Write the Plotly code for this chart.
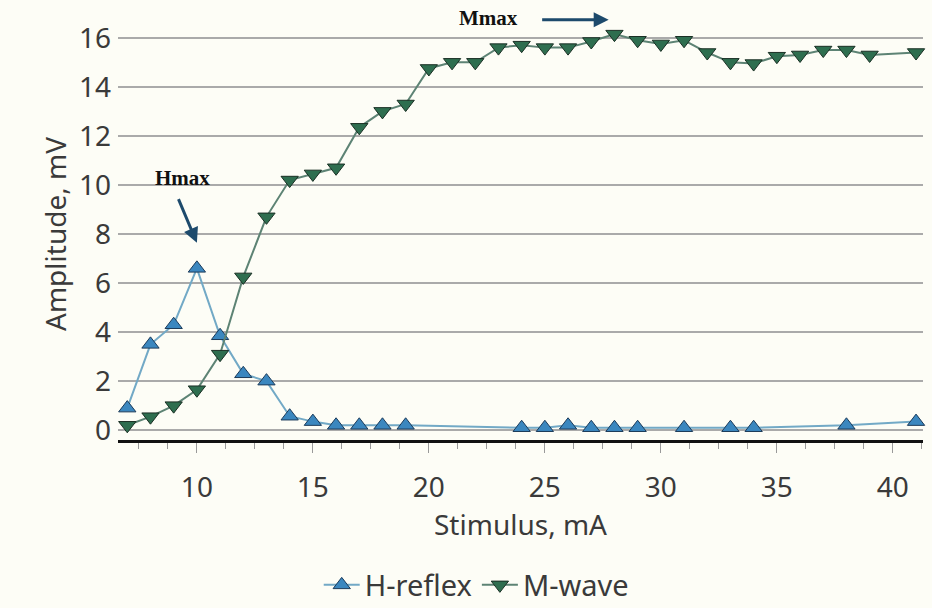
import plotly.graph_objects as go

# Stimulus intensities (mA) and response amplitudes (mV)
h_stim = [7, 8, 9, 10, 11, 12, 13, 14, 15, 16, 17, 18, 19,
          24, 25, 26, 27, 28, 29, 31, 33, 34, 38, 41]
h_amp = [0.9, 3.5, 4.3, 6.6, 3.85, 2.3, 2.0, 0.57, 0.35, 0.2, 0.2, 0.2, 0.2,
         0.1, 0.1, 0.2, 0.1, 0.1, 0.1, 0.1, 0.1, 0.1, 0.2, 0.35]

m_stim = [7, 8, 9, 10, 11, 12, 13, 14, 15, 16, 17, 18, 19, 20, 21, 22, 23, 24,
          25, 26, 27, 28, 29, 30, 31, 32, 33, 34, 35, 36, 37, 38, 39, 41]
m_amp = [0.2, 0.55, 1.0, 1.65, 3.1, 6.25, 8.7, 10.2, 10.45, 10.7, 12.35, 13.0,
         13.3, 14.75, 15.0, 15.0, 15.6, 15.7, 15.6, 15.6, 15.85, 16.15, 15.9,
         15.75, 15.9, 15.4, 15.0, 14.95, 15.25, 15.3, 15.5, 15.5, 15.3, 15.4]

y_ticks = [0, 2, 4, 6, 8, 10, 12, 14, 16]
x_ticks = [10, 15, 20, 25, 30, 35, 40]

TEXT = "#3a3a3a"
FONT = "Noto Sans"
FS = 28
BG = "#fdfdf6"
ARROW = "#1d4a6c"

fig = go.Figure()

fig.add_trace(go.Scatter(
    x=h_stim, y=h_amp, name="H-reflex", mode="lines+markers",
    line=dict(color="#72a9c6", width=2),
    marker=dict(symbol="triangle-up", size=15, color="#3b87bf",
                line=dict(color="#1c3b5a", width=1)),
    cliponaxis=False,
))
fig.add_trace(go.Scatter(
    x=m_stim, y=m_amp, name="M-wave", mode="lines+markers",
    line=dict(color="#5d8374", width=2),
    marker=dict(symbol="triangle-down", size=15, color="#2e6e4f",
                line=dict(color="#1a2f24", width=1)),
    cliponaxis=False,
))

# Peak labels with arrows
fig.add_annotation(x=10, y=7.64, ax=9.18, ay=9.48, xref="x", yref="y",
                   axref="x", ayref="y", text="", showarrow=True,
                   arrowhead=2, arrowsize=1, arrowwidth=3, arrowcolor=ARROW)
fig.add_annotation(x=9.4, y=10.3, xref="x", yref="y", text="<b>Hmax</b>",
                   showarrow=False, yanchor="middle",
                   font=dict(family="Liberation Serif", size=21, color="#111111"))
fig.add_annotation(x=27.75, y=1.02, xref="x", yref="paper", ax=-68, ay=0,
                   text="", showarrow=True,
                   arrowhead=2, arrowsize=1, arrowwidth=3, arrowcolor=ARROW)
fig.add_annotation(x=22.55, y=1.024, xref="x", yref="paper", text="<b>Mmax</b>",
                   showarrow=False, yanchor="middle",
                   font=dict(family="Liberation Serif", size=21, color="#111111"))

fig.update_layout(
    width=932, height=608,
    margin=dict(l=118, r=9, t=28, b=168, autoexpand=False),
    paper_bgcolor=BG, plot_bgcolor=BG,
    font=dict(family=FONT, size=FS, color=TEXT),
    showlegend=True,
    legend=dict(orientation="h", x=0.445, xanchor="center", y=-0.352,
                yanchor="middle", font=dict(size=29, color=TEXT),
                bgcolor="rgba(0,0,0,0)", itemwidth=36),
    xaxis=dict(
        range=[6.6, 41.3], tickvals=x_ticks, showgrid=False, zeroline=False,
        showline=True, linecolor="#111111", linewidth=3,
        ticks="outside", ticklen=10, tickcolor="#999999", tickwidth=1,
        ticklabelstandoff=10,
        minor=dict(dtick=1.25, tick0=0, ticks="outside", ticklen=6,
                   tickcolor="#999999", tickwidth=1, showgrid=False),
        title=dict(text="Stimulus, mA", standoff=4, font=dict(size=FS)),
    ),
    yaxis=dict(
        range=[-0.4, 16.4], tickvals=y_ticks, showgrid=True,
        gridcolor="#aaaaaa", gridwidth=1.5, zeroline=False, showline=False,
        ticks="", ticklabelstandoff=6,
        title=dict(text="Amplitude, mV", standoff=4, font=dict(size=FS)),
    ),
)

fig.write_html("out.html")
